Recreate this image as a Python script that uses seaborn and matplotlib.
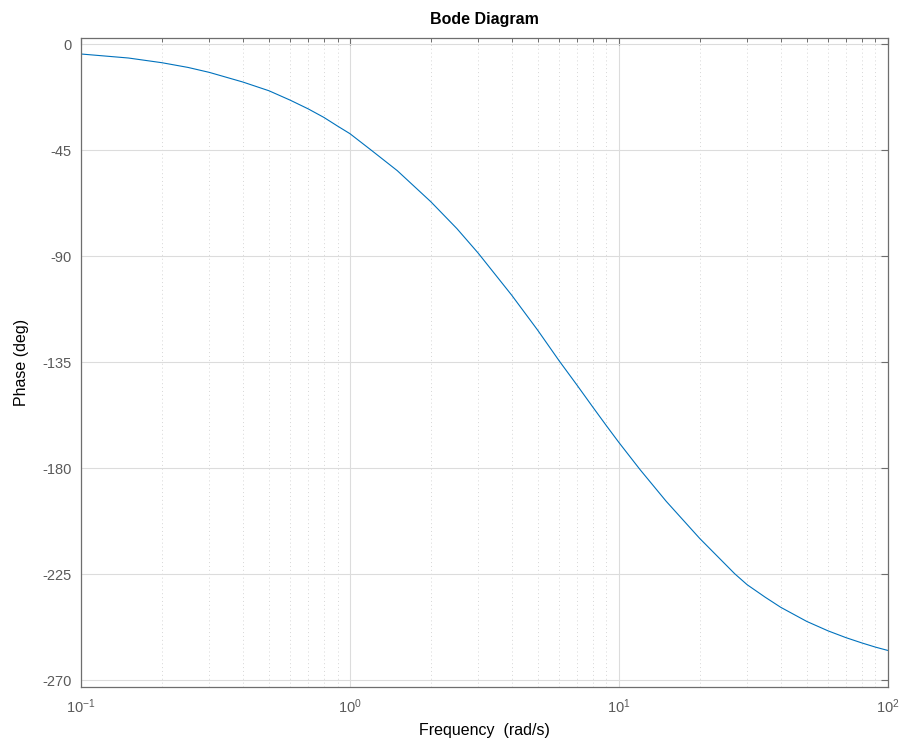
import numpy as np
import pandas as pd
import seaborn as sns
import matplotlib
matplotlib.use("Agg")
import matplotlib.pyplot as plt
from matplotlib.ticker import LogLocator, NullFormatter, FixedLocator

# values
freq = [0.1, 0.15, 0.2, 0.25, 0.3, 0.4, 0.5, 0.6, 0.7, 0.8, 0.9, 1.0, 1.2, 1.5,
        2.0, 2.5, 3.0, 4.0, 5.0, 6.0, 7.0, 8.0, 9.0, 10.0, 12.0, 15.0, 20.0,
        27.0, 30.0, 35.0, 40.0, 50.0, 60.0, 70.0, 80.0, 90.0, 100.0]
phase = [-4.2, -5.9, -7.9, -9.9, -12.0, -16.1, -19.8, -23.8, -27.5, -31.1,
         -34.8, -38.0, -45.0, -53.7, -66.9, -78.3, -88.7, -106.6, -121.5,
         -134.4, -144.8, -154.0, -162.0, -169.0, -180.6, -194.0, -209.8,
         -224.8, -229.4, -234.7, -239.0, -245.0, -249.0, -251.9, -254.1,
         -255.9, -257.3]
yticks = [0, -45, -90, -135, -180, -225, -270]

df = pd.DataFrame({"freq": freq, "phase": phase})

sns.set_theme(style="white")
plt.rcParams["font.family"] = ["Liberation Sans", "DejaVu Sans"]
plt.rcParams["mathtext.default"] = "regular"
plt.rcParams["axes.unicode_minus"] = False

fig = plt.figure(figsize=(9.06, 7.46), dpi=100)
ax = fig.add_axes([0.0894, 0.0795, 0.8904, 0.8696])

sns.lineplot(data=df, x="freq", y="phase", color="#0072BD", linewidth=0.8, ax=ax)

ax.set_xscale("log")
ax.set_xlim(0.1, 100)
ax.set_ylim(-272.7, 2.6)
ax.yaxis.set_major_locator(FixedLocator(yticks))
ax.xaxis.set_major_locator(LogLocator(base=10))
ax.xaxis.set_minor_locator(LogLocator(base=10, subs=np.arange(2, 10)))
ax.xaxis.set_minor_formatter(NullFormatter())

# matlab style grid
ax.grid(True, which="major", color="#dcdcdc", linewidth=0.8, linestyle="-")
ax.grid(True, which="minor", axis="x", color="#d6d6d6", linewidth=0.7, linestyle=(0, (1, 3)))
ax.set_axisbelow(True)

for s in ax.spines.values():
    s.set_color("#6e6e6e")
    s.set_linewidth(0.9)

ax.tick_params(which="both", direction="in", top=True, right=True, colors="#6e6e6e",
               labelcolor="#5a5a5a", labelsize=10.5)
ax.tick_params(which="major", length=5, width=0.8)
ax.tick_params(which="minor", length=3, width=0.7)
ax.tick_params(axis="x", pad=8)
ax.tick_params(axis="y", pad=7)

ax.set_title("Bode Diagram", fontsize=11.5, fontweight="bold", color="black", pad=10)
ax.set_xlabel("Frequency  (rad/s)", fontsize=11.5, color="black", labelpad=5)
ax.set_ylabel("Phase (deg)", fontsize=11.5, color="black", labelpad=9)

fig.savefig("out.png", dpi=100)
